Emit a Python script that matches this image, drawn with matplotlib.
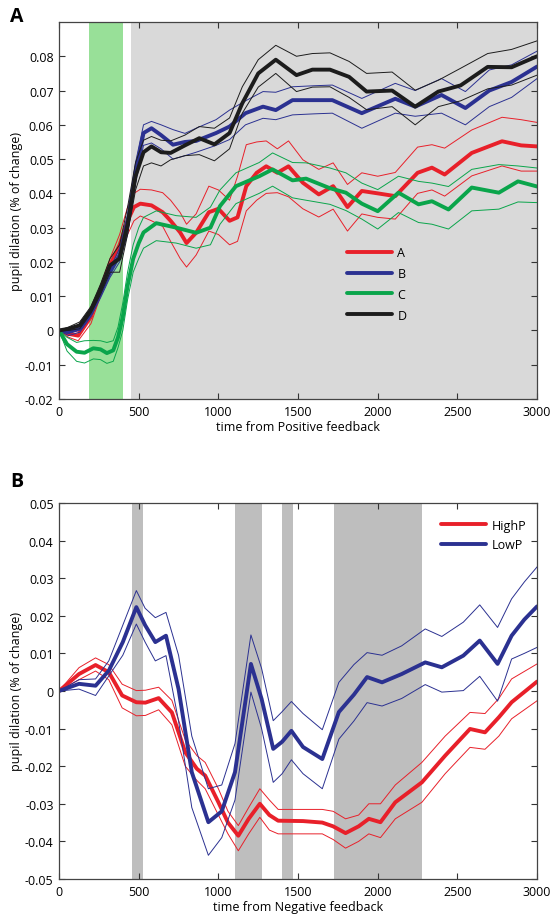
import matplotlib
matplotlib.use("Agg")
import matplotlib.pyplot as plt
from matplotlib.ticker import FuncFormatter

plt.rcParams['font.family'] = ['Open Sans', 'DejaVu Sans']
plt.rcParams['axes.unicode_minus'] = False

# ---------- panel A data (positive feedback) ----------
a_x = [0, 60, 120, 200, 260, 320, 380, 430, 470, 510, 580, 650, 700, 760, 800, 860, 940, 1000, 1070, 1120,
       1175, 1240, 1300, 1370, 1440, 1530, 1630, 1720, 1810, 1900, 2000, 2110, 2250, 2340, 2420, 2590, 2780, 2900, 3000]
a_mean = [0, -0.001, -0.0015, 0.004, 0.012, 0.019, 0.025, 0.032, 0.036, 0.037, 0.0365, 0.0345, 0.032, 0.0286, 0.0255,
          0.0285, 0.0345, 0.0355, 0.032, 0.033, 0.0421, 0.046, 0.0479, 0.046, 0.0479, 0.0431, 0.0397, 0.0421, 0.036,
          0.0407, 0.040, 0.0392, 0.046, 0.0475, 0.0455, 0.0518, 0.0552, 0.054, 0.0537]
a_up = [0, 0, -0.0005, 0.005, 0.013, 0.021, 0.028, 0.036, 0.040, 0.0412, 0.041, 0.0402, 0.038, 0.0344, 0.031, 0.034,
        0.0421, 0.041, 0.038, 0.045, 0.0542, 0.055, 0.0553, 0.053, 0.0553, 0.0498, 0.047, 0.0489, 0.0426, 0.046,
        0.045, 0.0461, 0.0535, 0.0542, 0.0532, 0.0585, 0.0622, 0.0615, 0.0607]
a_lo = [0, -0.002, -0.003, 0.002, 0.010, 0.017, 0.022, 0.028, 0.032, 0.0334, 0.032, 0.0304, 0.026, 0.021, 0.0185,
        0.022, 0.029, 0.028, 0.025, 0.026, 0.0349, 0.038, 0.040, 0.0402, 0.039, 0.0355, 0.0331, 0.0354, 0.029, 0.034,
        0.033, 0.0325, 0.040, 0.041, 0.0392, 0.0451, 0.048, 0.0465, 0.0465]

b_x = [0, 60, 130, 200, 260, 320, 380, 430, 480, 530, 580, 640, 715, 790, 860, 985, 1070, 1170, 1280, 1360, 1465,
       1600, 1715, 1900, 2110, 2235, 2400, 2550, 2700, 2840, 3000]
b_mean = [0, -0.0005, 0.0005, 0.005, 0.011, 0.017, 0.022, 0.031, 0.046, 0.0576, 0.059, 0.057, 0.0542, 0.055, 0.0553,
          0.0576, 0.0595, 0.0634, 0.0653, 0.0643, 0.0672, 0.0672, 0.0672, 0.0634, 0.0676, 0.0653, 0.0687, 0.0649,
          0.070, 0.0725, 0.077]
b_up = [0, 0.0005, 0.0015, 0.006, 0.012, 0.018, 0.024, 0.034, 0.049, 0.060, 0.061, 0.060, 0.0586, 0.0575, 0.059,
        0.0615, 0.0643, 0.067, 0.0697, 0.0695, 0.0711, 0.0714, 0.0716, 0.0677, 0.0721, 0.070, 0.0735, 0.0697, 0.076,
        0.0775, 0.0815]
b_lo = [0, -0.0015, -0.0005, 0.004, 0.0095, 0.0155, 0.020, 0.028, 0.043, 0.054, 0.0547, 0.053, 0.050, 0.051, 0.052,
        0.054, 0.0557, 0.060, 0.0619, 0.0615, 0.0629, 0.0632, 0.0634, 0.059, 0.0634, 0.0625, 0.0634, 0.060, 0.0653,
        0.068, 0.0735]

c_x = [0, 50, 110, 160, 215, 260, 300, 340, 370, 400, 430, 465, 500, 530, 610, 735, 860, 950, 1010, 1110, 1256,
       1340, 1465, 1550, 1700, 1800, 1900, 2000, 2130, 2256, 2340, 2444, 2590, 2760, 2880, 3000]
c_mean = [0, -0.004, -0.0062, -0.0065, -0.0052, -0.0055, -0.0066, -0.0058, -0.002, 0.004, 0.013, 0.0209, 0.0255,
          0.0286, 0.0313, 0.030, 0.0285, 0.030, 0.0363, 0.0421, 0.045, 0.047, 0.0438, 0.0443, 0.0415, 0.0402, 0.037,
          0.0348, 0.0402, 0.0368, 0.0377, 0.0353, 0.0417, 0.0402, 0.0435, 0.042]
c_up = [0, -0.002, -0.0035, -0.003, -0.0029, -0.003, -0.0035, -0.003, 0.001, 0.008, 0.017, 0.025, 0.030, 0.033,
        0.0349, 0.0335, 0.033, 0.036, 0.041, 0.046, 0.049, 0.0518, 0.049, 0.0489, 0.0474, 0.046, 0.043, 0.0411,
        0.045, 0.0435, 0.043, 0.042, 0.047, 0.0484, 0.048, 0.0474]
c_lo = [0, -0.006, -0.009, -0.0095, -0.0083, -0.0085, -0.0096, -0.009, -0.005, 0.0, 0.009, 0.017, 0.021, 0.024,
        0.0262, 0.0255, 0.024, 0.025, 0.031, 0.037, 0.040, 0.0421, 0.0387, 0.038, 0.0368, 0.035, 0.0325, 0.0296,
        0.0344, 0.0315, 0.031, 0.0296, 0.0349, 0.0354, 0.0375, 0.0373]

d_x = [0, 60, 130, 200, 260, 320, 380, 430, 480, 530, 580, 640, 700, 790, 880, 975, 1070, 1150, 1250, 1360, 1490,
       1590, 1700, 1820, 1930, 2090, 2235, 2380, 2520, 2690, 2840, 3000]
d_mean = [0, 0.0005, 0.0015, 0.006, 0.012, 0.019, 0.021, 0.031, 0.045, 0.052, 0.0537, 0.052, 0.0518, 0.054, 0.0561,
          0.0543, 0.0576, 0.0663, 0.075, 0.079, 0.0745, 0.0761, 0.0761, 0.074, 0.0697, 0.070, 0.0653, 0.0697, 0.0715,
          0.0769, 0.0768, 0.080]
d_up = [0, 0.001, 0.0025, 0.007, 0.0135, 0.021, 0.025, 0.036, 0.049, 0.0555, 0.0566, 0.0555, 0.0553, 0.057, 0.0595,
        0.059, 0.062, 0.0711, 0.079, 0.0832, 0.080, 0.0808, 0.081, 0.0785, 0.075, 0.0754, 0.0701, 0.073, 0.0765,
        0.0808, 0.082, 0.0845]
d_lo = [0, 0, 0.0005, 0.005, 0.0105, 0.017, 0.017, 0.028, 0.041, 0.048, 0.0489, 0.048, 0.0498, 0.051, 0.0513,
        0.0495, 0.053, 0.0634, 0.071, 0.075, 0.0697, 0.071, 0.0711, 0.068, 0.0644, 0.0653, 0.060, 0.0653, 0.067,
        0.0705, 0.0716, 0.0745]

# ---------- panel B data (negative feedback) ----------
hp_x = [0, 125, 229, 312, 396, 485, 542, 625, 708, 792, 865, 917, 1000, 1060, 1125, 1190, 1260, 1320, 1375, 1531,
        1652, 1720, 1798, 1880, 1944, 2017, 2110, 2277, 2423, 2579, 2673, 2760, 2840, 3000]
hp_mean = [0, 0.0045, 0.0069, 0.005, -0.0012, -0.003, -0.0031, -0.0019, -0.0057, -0.0163, -0.0207, -0.0225,
           -0.0296, -0.035, -0.0385, -0.034, -0.030, -0.033, -0.0345, -0.0346, -0.035, -0.036, -0.0378, -0.036,
           -0.034, -0.0349, -0.0296, -0.0243, -0.0172, -0.0101, -0.011, -0.007, -0.003, 0.0025]
hp_up = [0, 0.0062, 0.0088, 0.007, 0.0018, 0.0001, 0.0002, 0.001, -0.0025, -0.013, -0.0172, -0.019, -0.026, -0.032,
         -0.0358, -0.031, -0.026, -0.029, -0.0315, -0.0315, -0.0315, -0.032, -0.034, -0.033, -0.030, -0.030, -0.025,
         -0.019, -0.012, -0.0057, -0.006, -0.002, 0.0032, 0.0072]
hp_lo = [0, 0.003, 0.0053, 0.003, -0.0045, -0.0066, -0.0065, -0.005, -0.009, -0.020, -0.0238, -0.026, -0.033,
         -0.038, -0.0425, -0.038, -0.0336, -0.037, -0.038, -0.038, -0.038, -0.0395, -0.0418, -0.040, -0.038, -0.039,
         -0.034, -0.0296, -0.022, -0.015, -0.0155, -0.012, -0.0074, -0.0026]

lp_x = [0, 125, 229, 312, 400, 485, 540, 604, 671, 750, 833, 937, 1021, 1104, 1204, 1271, 1344, 1400, 1458, 1531,
        1652, 1756, 1850, 1933, 2027, 2150, 2298, 2402, 2537, 2640, 2752, 2840, 2920, 3000]
lp_mean = [0, 0.0019, 0.0014, 0.0054, 0.013, 0.0223, 0.0175, 0.013, 0.0147, 0.0005, -0.0216, -0.0349, -0.032,
           -0.0216, 0.0072, -0.0021, -0.0154, -0.0135, -0.0106, -0.0149, -0.0181, -0.0056, -0.001, 0.0037, 0.0023,
           0.0045, 0.0076, 0.0063, 0.0094, 0.0134, 0.0072, 0.0147, 0.019, 0.0225]
lp_up = [0, 0.003, 0.0032, 0.008, 0.0175, 0.0267, 0.022, 0.0195, 0.0209, 0.0095, -0.012, -0.026, -0.025, -0.014,
         0.0149, 0.006, -0.0079, -0.0055, -0.0028, -0.006, -0.0103, 0.0023, 0.007, 0.0102, 0.0095, 0.012, 0.0165,
         0.0145, 0.0183, 0.0229, 0.0169, 0.0245, 0.029, 0.033]
lp_lo = [0, 0.0005, -0.0012, 0.004, 0.0095, 0.0178, 0.013, 0.008, 0.0094, -0.008, -0.031, -0.0437, -0.039, -0.029,
         -0.0003, -0.010, -0.0243, -0.022, -0.0183, -0.022, -0.026, -0.0128, -0.008, -0.0031, -0.004, -0.002,
         0.0017, -0.0003, 0.0001, 0.0039, -0.0027, 0.0085, 0.010, 0.0116]

a_spans = [(190, 400, "#98e098"), (450, 3000, "#d9d9d9")]
b_spans = [(455, 525), (1105, 1275), (1400, 1470), (1725, 2280)]

RED, BLUE, GREEN, BLACK = "#e8202a", "#2b3191", "#0aa54b", "#1c1c1c"
THICK, THIN = 2.8, 0.7

fig = plt.figure(figsize=(5.52, 9.2), dpi=100)
axA = fig.add_axes([0.107, 0.5652, 0.866, 0.4098])
axB = fig.add_axes([0.107, 0.0435, 0.866, 0.4087])

fmt = FuncFormatter(lambda v, p: f"{v:g}" if abs(v) > 1e-12 else "0")

def style(ax, yticks):
    ax.set_xlim(0, 3000)
    ax.set_xticks(range(0, 3001, 500))
    ax.set_yticks(yticks)
    ax.yaxis.set_major_formatter(fmt)
    ax.tick_params(direction="in", top=True, right=True, length=4, width=0.8,
                   labelsize=9, colors="#333333", labelcolor="black", pad=4)
    for s in ax.spines.values():
        s.set_color("#444444"); s.set_linewidth(0.9)
    ax.set_ylabel("pupil dilation (% of change)", fontsize=9, labelpad=1)

def series(ax, x, m, u, l, c, label):
    ax.plot(x, u, color=c, lw=THIN, solid_joinstyle="round")
    ax.plot(x, l, color=c, lw=THIN, solid_joinstyle="round")
    return ax.plot(x, m, color=c, lw=THICK, solid_joinstyle="round", solid_capstyle="round", label=label)[0]

# ---------- panel A ----------
for x0, x1, col in a_spans:
    axA.axvspan(x0, x1, color=col, lw=0, zorder=0)
hA = [series(axA, a_x, a_mean, a_up, a_lo, RED, "A"),
      series(axA, b_x, b_mean, b_up, b_lo, BLUE, "B"),
      series(axA, c_x, c_mean, c_up, c_lo, GREEN, "C"),
      series(axA, d_x, d_mean, d_up, d_lo, BLACK, "D")]
axA.set_ylim(-0.02, 0.09)
style(axA, [v / 100 for v in range(-2, 9)])
axA.set_xlabel("time from Positive feedback", fontsize=9, labelpad=2)
axA.legend(handles=hA, loc="upper left", bbox_to_anchor=(0.603, 0.405), frameon=False,
           fontsize=9, handlelength=3.6, handletextpad=0.4, labelspacing=0.62,
           borderaxespad=0, borderpad=0)
fig.text(0.018, 0.982, "A", fontsize=14, fontweight="bold", va="center")

# ---------- panel B ----------
for x0, x1 in b_spans:
    axB.axvspan(x0, x1, color="#bebebe", lw=0, zorder=0)
hB = [series(axB, hp_x, hp_mean, hp_up, hp_lo, RED, "HighP"),
      series(axB, lp_x, lp_mean, lp_up, lp_lo, BLUE, "LowP")]
axB.set_ylim(-0.05, 0.05)
style(axB, [v / 100 for v in range(-5, 6)])
axB.set_xlabel("time from Negative feedback", fontsize=9, labelpad=2)
axB.legend(handles=hB, loc="upper left", bbox_to_anchor=(0.8, 0.958), frameon=False,
           fontsize=9, handlelength=3.6, handletextpad=0.4, labelspacing=0.5,
           borderaxespad=0, borderpad=0)
fig.text(0.018, 0.476, "B", fontsize=14, fontweight="bold", va="center")

fig.savefig("out.png", dpi=100)
